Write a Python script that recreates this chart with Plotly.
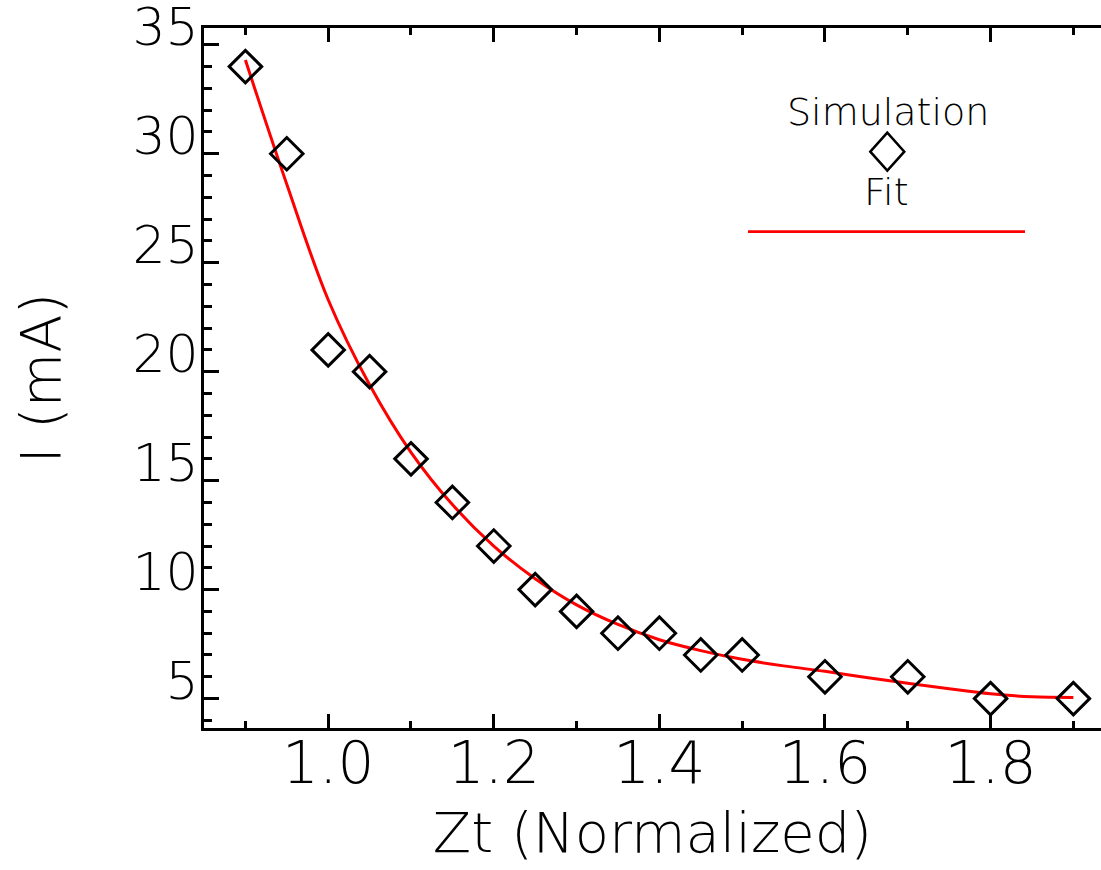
import plotly.graph_objects as go

# Simulated current vs normalized Zt
sim_x = [0.90, 0.95, 1.00, 1.05, 1.10, 1.15, 1.20, 1.25, 1.30, 1.35, 1.40,
         1.45, 1.50, 1.60, 1.70, 1.80, 1.90]
sim_y = [34, 30, 21, 20, 16, 14, 12, 10, 9, 8, 8, 7, 7, 6, 6, 5, 5]

# Fitted curve
fit_x = [0.90, 0.95, 1.00, 1.05, 1.10, 1.15, 1.20, 1.25, 1.30, 1.35, 1.40,
         1.45, 1.50, 1.55, 1.60, 1.65, 1.70, 1.75, 1.80, 1.85, 1.90]
fit_y = [34.3, 28.6, 23.3, 19.4, 16.3, 13.9, 12.0, 10.5, 9.3, 8.4, 7.7,
         7.2, 6.8, 6.5, 6.25, 5.97, 5.7, 5.45, 5.22, 5.08, 5.05]

x_range = [0.85, 1.9334]
y_range = [3.65, 35.77]

W, H = 1101, 870
L, R, T, B = 204, 0, 28, 142
FONT = "DejaVu Sans ExtraLight, DejaVu Sans Light, Open Sans"


def px(x):
    return (x - L) / (W - L - R)


def py(y):
    return (H - B - y) / (H - T - B)


fig = go.Figure()
fig.add_trace(go.Scatter(
    x=fit_x, y=fit_y, mode="lines", line=dict(color="#ff0000", width=3, shape="spline"),
    name="Fit", showlegend=False))
fig.add_trace(go.Scatter(
    x=sim_x, y=sim_y, mode="markers",
    marker=dict(symbol="diamond-open", size=25, color="black", line=dict(width=3, color="black")),
    name="Simulation", showlegend=False))

# Legend block drawn in pixel-aligned paper coordinates
cx, cy = 887.3, 151.7
fig.add_shape(type="path", xref="paper", yref="paper",
              path=f"M {px(cx - 17)} {py(cy)} L {px(cx)} {py(cy - 19)} L {px(cx + 17)} {py(cy)} L {px(cx)} {py(cy + 19)} Z",
              line=dict(color="black", width=2.5))
fig.add_shape(type="line", xref="paper", yref="paper",
              x0=px(748), x1=px(1025), y0=py(231.7), y1=py(231.7),
              line=dict(color="#ff0000", width=2.7))
legend_font = dict(family=FONT, size=38, color="black", weight=300)
fig.add_annotation(x=px(887.5), y=py(112), xref="paper", yref="paper", text="Simulation",
                   xanchor="center", yanchor="middle", showarrow=False, font=legend_font)
fig.add_annotation(x=px(886), y=py(192), xref="paper", yref="paper", text="Fit",
                   xanchor="center", yanchor="middle", showarrow=False, font=legend_font)

axis_font = dict(family=FONT, size=56, color="black", weight=300)
xtick_font = dict(family=FONT, size=58, color="black", weight=300)
ytick_font = dict(family=FONT, size=52, color="black", weight=300)

fig.update_layout(
    width=W, height=H,
    margin=dict(l=L, r=R, t=T, b=B, pad=0),
    paper_bgcolor="white", plot_bgcolor="white",
    showlegend=False,
    xaxis=dict(
        range=x_range, showgrid=False, zeroline=False, automargin=False,
        showline=True, linecolor="black", linewidth=3, mirror="ticks",
        ticks="inside", ticklen=14, tickwidth=3, tickcolor="black",
        tickmode="linear", tick0=1.0, dtick=0.2, tickformat=".1f",
        minor=dict(ticks="inside", ticklen=7, tickwidth=3, tickcolor="black", dtick=0.1, tick0=0.9, showgrid=False),
        tickfont=xtick_font, ticklabelstandoff=-18, ticklabeloverflow="allow",
        title=dict(text="Zt (Normalized)", font=axis_font, standoff=18),
    ),
    yaxis=dict(
        range=y_range, showgrid=False, zeroline=False, automargin=False,
        showline=True, linecolor="black", linewidth=3, mirror=False,
        ticks="inside", ticklen=15, tickwidth=3, tickcolor="black",
        tickmode="linear", tick0=5, dtick=5,
        minor=dict(ticks="inside", ticklen=8, tickwidth=3, tickcolor="black", dtick=1, showgrid=False),
        tickfont=ytick_font, ticklabelstandoff=-8, ticklabelshift=-18,
        ticklabeloverflow="allow",
        title=dict(text="I (mA)", font=axis_font, standoff=54),
    ),
)

fig.write_html("out.html")
